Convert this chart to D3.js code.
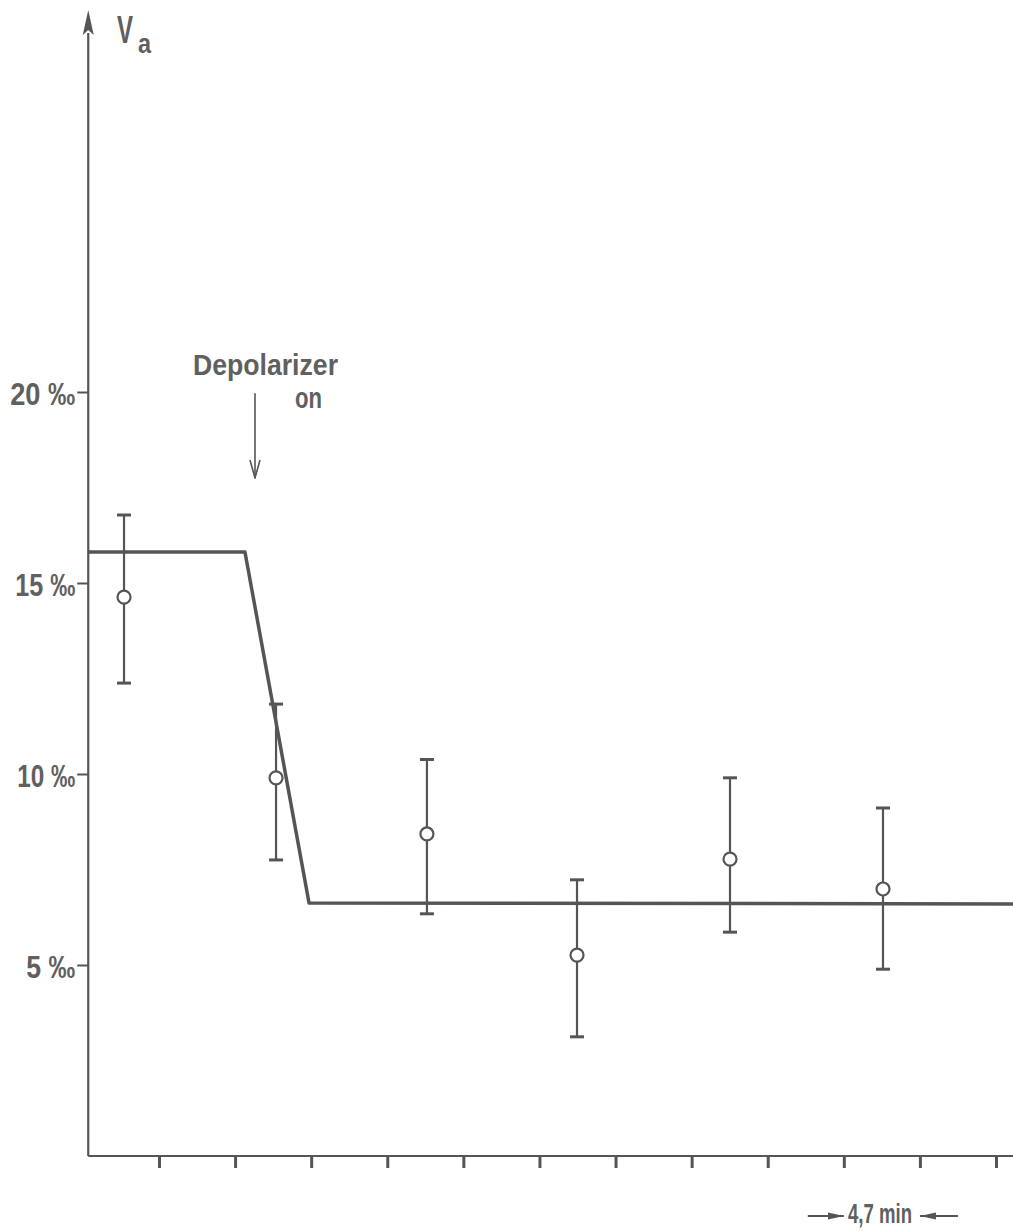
<!DOCTYPE html>
<html lang="en">
<head>
<meta charset="utf-8">
<title>Va after depolarizer on</title>
<script src="https://d3js.org/d3.v7.min.js"></script>
<style>
  body { margin: 0; background: white; }
  text { font-family: "Liberation Sans", Arial, sans-serif; font-weight: bold; fill: #606060; }
</style>
</head>
<body>
<div id="chart"></div>
<script>
// time in minutes (one tick = 4.7 min), Va in per mille
var tickMinutes = [4.7, 9.4, 14.1, 18.8, 23.5, 28.2, 32.9, 37.6, 42.3, 47.0, 51.7, 56.4]
var yTicks = [5, 10, 15, 20]
var yTickLabels = ["5 ‰", "10 ‰", "15 ‰", "20 ‰"]

// measured points with error bars
var pointTime = [2.54, 11.93, 21.25, 30.52, 39.97, 49.42]
var pointValue = [14.63, 9.90, 8.43, 5.26, 7.77, 6.99]
var pointHigh = [16.78, 11.83, 10.38, 7.23, 9.90, 9.11]
var pointLow = [12.38, 7.75, 6.34, 3.12, 5.86, 4.89]

// fitted curve
var fitTime = [0.33, 10.01, 13.97, 57.6]
var fitValue = [15.81, 15.81, 6.62, 6.60]

// depolarizer switched on
var depolTime = 10.63
var depolFrom = 19.97, depolTo = 17.75

var axisStart = 0.33

var width = 1013, height = 1231
var ink = "#555"
// the original lettering is a narrow face, so labels get squeezed to these widths
var labelWidths = [49, 58, 60, 65]

var svg = d3.select("#chart").append("svg")
    .attr("width", width)
    .attr("height", height)

var x = d3.scaleLinear().domain([0, 56.4]).range([82.9, 996])
var y = d3.scaleLinear().domain([0, 30]).range([1156, 10])

var defs = svg.append("defs")
defs.append("marker")
    .attr("id", "openHead")
    .attr("viewBox", "0 0 20 12").attr("refX", 19).attr("refY", 6)
    .attr("markerWidth", 20).attr("markerHeight", 12)
    .attr("markerUnits", "userSpaceOnUse").attr("orient", "auto")
  .append("path")
    .attr("d", "M1,1 L19,6 L1,11")
    .attr("fill", "none").attr("stroke", ink).attr("stroke-width", 1.6)
defs.append("marker")
    .attr("id", "solidHead")
    .attr("viewBox", "0 0 16 8").attr("refX", 16).attr("refY", 4)
    .attr("markerWidth", 16).attr("markerHeight", 8)
    .attr("markerUnits", "userSpaceOnUse").attr("orient", "auto")
  .append("path")
    .attr("d", "M0,0.5 L16,4 L0,7.5 Z")
    .attr("fill", ink)

// y axis line with arrow
var x0 = x(axisStart)
svg.append("line")
    .attr("x1", x0).attr("x2", x0)
    .attr("y1", y(0)).attr("y2", y(29.4))
    .attr("stroke", ink).attr("stroke-width", 2.2)
svg.append("path")
    .attr("d", "M" + x0 + "," + y(30) + " L" + (x0 + 5.5) + "," + (y(30) + 25) +
               " L" + x0 + "," + (y(30) + 20) + " L" + (x0 - 5.5) + "," + (y(30) + 25) + " Z")
    .attr("fill", ink)

// x axis line
svg.append("line")
    .attr("x1", x0).attr("x2", width)
    .attr("y1", y(0)).attr("y2", y(0))
    .attr("stroke", ink).attr("stroke-width", 2.2)

// x ticks
var xAxis = svg.append("g")
    .attr("transform", "translate(0," + y(0) + ")")
    .call(d3.axisBottom(x).tickValues(tickMinutes).tickSize(12).tickFormat(""))
xAxis.select(".domain").remove()
xAxis.selectAll("line").attr("stroke", ink).attr("stroke-width", 3)

// y ticks
var yAxis = svg.append("g")
    .attr("transform", "translate(" + x0 + ",0)")
    .call(d3.axisLeft(y).tickValues(yTicks).tickSize(11).tickPadding(2)
      .tickFormat(function(d, i) { return yTickLabels[i] }))
yAxis.select(".domain").remove()
yAxis.selectAll("line").attr("stroke", ink).attr("stroke-width", 2)
yAxis.selectAll("text")
    .attr("dy", null)
    .attr("y", 12)
    .attr("textLength", function(d, i) { return labelWidths[i] })
    .attr("lengthAdjust", "spacingAndGlyphs")
    .attr("font-size", null)
    .attr("font-family", null)
    .style("font-size", "31px")
    .attr("fill", "#606060")

// axis title V with subscript a
var title = svg.append("text")
    .attr("x", 117).attr("y", 43)
    .style("font-size", "39px")
title.append("tspan")
    .attr("textLength", 16).attr("lengthAdjust", "spacingAndGlyphs")
    .text("V")
title.append("tspan")
    .attr("dx", 5).attr("dy", 10)
    .attr("textLength", 13).attr("lengthAdjust", "spacingAndGlyphs")
    .style("font-size", "28px")
    .text("a")

// fitted curve
var pts = fitTime.map(function(t, i) { return [x(t), y(fitValue[i])] })
svg.append("path")
    .attr("d", d3.line()(pts))
    .attr("fill", "none")
    .attr("stroke", ink)
    .attr("stroke-width", 3.5)
    .attr("stroke-linejoin", "round")

// error bars and circles
var points = pointTime.map(function(t, i) {
  return {t: t, v: pointValue[i], hi: pointHigh[i], lo: pointLow[i]}
})
var g = svg.selectAll(".pt").data(points).enter().append("g").attr("class", "pt")
g.append("line")
    .attr("x1", function(d) { return x(d.t) }).attr("x2", function(d) { return x(d.t) })
    .attr("y1", function(d) { return y(d.hi) }).attr("y2", function(d) { return y(d.lo) })
    .attr("stroke", ink).attr("stroke-width", 2.2)
g.selectAll(".cap").data(function(d) { return [[d.t, d.hi], [d.t, d.lo]] })
  .enter().append("line")
    .attr("x1", function(d) { return x(d[0]) - 7 }).attr("x2", function(d) { return x(d[0]) + 7 })
    .attr("y1", function(d) { return y(d[1]) }).attr("y2", function(d) { return y(d[1]) })
    .attr("stroke", ink).attr("stroke-width", 3)
g.append("circle")
    .attr("cx", function(d) { return x(d.t) })
    .attr("cy", function(d) { return y(d.v) })
    .attr("r", 6.5)
    .attr("fill", "white")
    .attr("stroke", ink)
    .attr("stroke-width", 2.2)

// depolarizer annotation
svg.append("line")
    .attr("x1", x(depolTime)).attr("x2", x(depolTime))
    .attr("y1", y(depolFrom)).attr("y2", y(depolTo))
    .attr("stroke", ink).attr("stroke-width", 1.6)
    .attr("marker-end", "url(#openHead)")
svg.append("text")
    .attr("x", 193).attr("y", 375)
    .attr("textLength", 145).attr("lengthAdjust", "spacingAndGlyphs")
    .style("font-size", "29px")
    .text("Depolarizer")
svg.append("text")
    .attr("x", 295).attr("y", 408)
    .attr("textLength", 27).attr("lengthAdjust", "spacingAndGlyphs")
    .style("font-size", "29px")
    .text("on")

// scale interval 4.7 min between two ticks
var yb = 1216
svg.append("line")
    .attr("x1", x(tickMinutes[9]) - 36).attr("x2", x(tickMinutes[9]))
    .attr("y1", yb).attr("y2", yb)
    .attr("stroke", ink).attr("stroke-width", 1.8)
    .attr("marker-end", "url(#solidHead)")
svg.append("line")
    .attr("x1", x(tickMinutes[10]) + 38).attr("x2", x(tickMinutes[10]))
    .attr("y1", yb).attr("y2", yb)
    .attr("stroke", ink).attr("stroke-width", 1.8)
    .attr("marker-end", "url(#solidHead)")
svg.append("text")
    .attr("x", 848).attr("y", 1223)
    .attr("textLength", 64).attr("lengthAdjust", "spacingAndGlyphs")
    .style("font-size", "27px")
    .text("4,7 min")
</script>
</body>
</html>
